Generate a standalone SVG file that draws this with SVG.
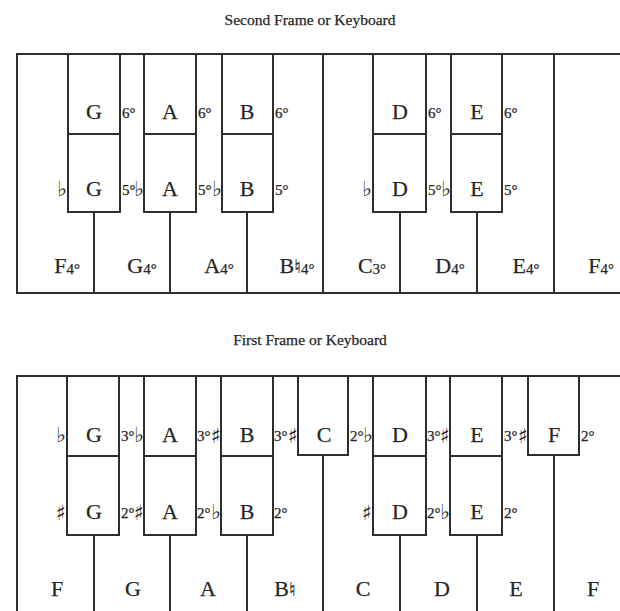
<svg xmlns="http://www.w3.org/2000/svg" width="620" height="611" viewBox="0 0 620 611">
<style>
.bg{fill:#ffffff}
.ln{stroke:#2e2e2e;stroke-width:2;fill:none;stroke-linecap:square}
.key{stroke:#2e2e2e;stroke-width:2;fill:#ffffff}
.t{font-family:"Liberation Serif","DejaVu Serif",serif;fill:#262626;stroke:#262626;stroke-width:0.25}
.title{font-size:15.5px;text-anchor:middle}
.k{font-size:22px;text-anchor:middle}
.n{font-size:15px;text-anchor:start}
.a{font-family:"DejaVu Sans","DejaVu Serif",sans-serif;font-size:21px;text-anchor:end;fill:#262626}
.s{font-size:15px}
.sn{font-family:"DejaVu Sans","DejaVu Serif",sans-serif;font-size:19px}
</style>
<rect class="bg" x="0" y="0" width="620" height="611"/>

<!-- ============ SECOND FRAME ============ -->
<text class="t title" x="310" y="25">Second Frame or Keyboard</text>

<g id="connectors">
  <!-- second frame outline and dividers -->
  <line class="ln" x1="17" y1="54" x2="620" y2="54"/>
  <line class="ln" x1="17" y1="293" x2="620" y2="293"/>
  <line class="ln" x1="17" y1="54" x2="17" y2="293"/>
  <line class="ln" x1="323" y1="54" x2="323" y2="293"/>
  <line class="ln" x1="554" y1="54" x2="554" y2="293"/>
  <line class="ln" x1="94" y1="212" x2="94" y2="293"/>
  <line class="ln" x1="170" y1="212" x2="170" y2="293"/>
  <line class="ln" x1="247" y1="212" x2="247" y2="293"/>
  <line class="ln" x1="400" y1="212" x2="400" y2="293"/>
  <line class="ln" x1="477" y1="212" x2="477" y2="293"/>
  <!-- first frame outline and dividers -->
  <line class="ln" x1="17" y1="376" x2="620" y2="376"/>
  <line class="ln" x1="17" y1="376" x2="17" y2="611"/>
  <line class="ln" x1="94" y1="535" x2="94" y2="611"/>
  <line class="ln" x1="170" y1="535" x2="170" y2="611"/>
  <line class="ln" x1="247" y1="535" x2="247" y2="611"/>
  <line class="ln" x1="323" y1="455" x2="323" y2="611"/>
  <line class="ln" x1="400" y1="535" x2="400" y2="611"/>
  <line class="ln" x1="477" y1="535" x2="477" y2="611"/>
  <line class="ln" x1="554" y1="455" x2="554" y2="611"/>
</g>

<!-- second frame keys -->
<g id="s-G">
  <rect class="key" x="68" y="54" width="52" height="80"/>
  <rect class="key" x="68" y="134" width="52" height="78"/>
  <text class="t k" x="94" y="119">G</text><text class="t n" x="122" y="118">6°</text>
  <text class="a" x="67" y="196">♭︎</text><text class="t k" x="94" y="196">G</text><text class="t n" x="122" y="195">5°</text>
</g>
<g id="s-A">
  <rect class="key" x="144" y="54" width="52" height="80"/>
  <rect class="key" x="144" y="134" width="52" height="78"/>
  <text class="t k" x="170" y="119">A</text><text class="t n" x="198" y="118">6°</text>
  <text class="a" x="144" y="196">♭︎</text><text class="t k" x="170" y="196">A</text><text class="t n" x="198" y="195">5°</text>
</g>
<g id="s-B">
  <rect class="key" x="222" y="54" width="51" height="80"/>
  <rect class="key" x="222" y="134" width="51" height="78"/>
  <text class="t k" x="247" y="119">B</text><text class="t n" x="275" y="118">6°</text>
  <text class="a" x="222" y="196">♭︎</text><text class="t k" x="247" y="196">B</text><text class="t n" x="275" y="195">5°</text>
</g>
<g id="s-D">
  <rect class="key" x="373" y="54" width="53" height="80"/>
  <rect class="key" x="373" y="134" width="53" height="78"/>
  <text class="t k" x="400" y="119">D</text><text class="t n" x="428" y="118">6°</text>
  <text class="a" x="372" y="196">♭︎</text><text class="t k" x="400" y="196">D</text><text class="t n" x="428" y="195">5°</text>
</g>
<g id="s-E">
  <rect class="key" x="451" y="54" width="51" height="80"/>
  <rect class="key" x="451" y="134" width="51" height="78"/>
  <text class="t k" x="477" y="119">E</text><text class="t n" x="504" y="118">6°</text>
  <text class="a" x="451" y="196">♭︎</text><text class="t k" x="477" y="196">E</text><text class="t n" x="504" y="195">5°</text>
</g>
<g id="s-naturals">
  <text class="t k" x="67" y="273">F<tspan class="s" dy="1">4°</tspan></text>
  <text class="t k" x="142" y="273">G<tspan class="s" dy="1">4°</tspan></text>
  <text class="t k" x="219" y="273">A<tspan class="s" dy="1">4°</tspan></text>
  <text class="t k" x="297" y="273">B<tspan class="sn">♮︎</tspan><tspan class="s" dy="1">4°</tspan></text>
  <text class="t k" x="372" y="273">C<tspan class="s" dy="1">3°</tspan></text>
  <text class="t k" x="450" y="273">D<tspan class="s" dy="1">4°</tspan></text>
  <text class="t k" x="526" y="273">E<tspan class="s" dy="1">4°</tspan></text>
  <text class="t k" x="601" y="273">F<tspan class="s" dy="1">4°</tspan></text>
</g>

<!-- ============ FIRST FRAME ============ -->
<text class="t title" x="310" y="345">First Frame or Keyboard</text>

<g id="f-G">
  <rect class="key" x="67" y="376" width="52" height="80"/>
  <rect class="key" x="67" y="456" width="52" height="79"/>
  <text class="a" x="66" y="442">♭︎</text><text class="t k" x="94" y="442">G</text><text class="t n" x="121" y="441">3°</text>
  <text class="a" x="66" y="520">♯︎</text><text class="t k" x="94" y="519">G</text><text class="t n" x="121" y="518">2°</text>
</g>
<g id="f-A">
  <rect class="key" x="144" y="376" width="52" height="80"/>
  <rect class="key" x="144" y="456" width="52" height="79"/>
  <text class="a" x="144" y="442">♭︎</text><text class="t k" x="170" y="442">A</text><text class="t n" x="197" y="441">3°</text>
  <text class="a" x="144" y="520">♯︎</text><text class="t k" x="170" y="519">A</text><text class="t n" x="197" y="518">2°</text>
</g>
<g id="f-B">
  <rect class="key" x="221" y="376" width="52" height="80"/>
  <rect class="key" x="221" y="456" width="52" height="79"/>
  <text class="a" x="221" y="443">♯︎</text><text class="t k" x="247" y="442">B</text><text class="t n" x="274" y="441">3°</text>
  <text class="a" x="221" y="519">♭︎</text><text class="t k" x="247" y="519">B</text><text class="t n" x="274" y="518">2°</text>
</g>
<g id="f-C">
  <rect class="key" x="298" y="376" width="50" height="79"/>
  <text class="a" x="298" y="443">♯︎</text><text class="t k" x="324" y="442">C</text><text class="t n" x="350" y="441">2°</text>
</g>
<g id="f-D">
  <rect class="key" x="373" y="376" width="53" height="80"/>
  <rect class="key" x="373" y="456" width="53" height="79"/>
  <text class="a" x="373" y="442">♭︎</text><text class="t k" x="400" y="442">D</text><text class="t n" x="427" y="441">3°</text>
  <text class="a" x="372" y="520">♯︎</text><text class="t k" x="400" y="519">D</text><text class="t n" x="427" y="518">2°</text>
</g>
<g id="f-E">
  <rect class="key" x="450" y="376" width="52" height="80"/>
  <rect class="key" x="450" y="456" width="52" height="79"/>
  <text class="a" x="450" y="443">♯︎</text><text class="t k" x="477" y="442">E</text><text class="t n" x="504" y="441">3°</text>
  <text class="a" x="450" y="519">♭︎</text><text class="t k" x="477" y="519">E</text><text class="t n" x="504" y="518">2°</text>
</g>
<g id="f-F">
  <rect class="key" x="528" y="376" width="51" height="79"/>
  <text class="a" x="528" y="443">♯︎</text><text class="t k" x="554" y="442">F</text><text class="t n" x="581" y="441">2°</text>
</g>
<g id="f-naturals">
  <text class="t k" x="57" y="596">F</text>
  <text class="t k" x="133" y="596">G</text>
  <text class="t k" x="208" y="596">A</text>
  <text class="t k" x="285" y="596">B<tspan class="sn">♮︎</tspan></text>
  <text class="t k" x="363" y="596">C</text>
  <text class="t k" x="442" y="596">D</text>
  <text class="t k" x="516" y="596">E</text>
  <text class="t k" x="593" y="596">F</text>
</g>
</svg>
